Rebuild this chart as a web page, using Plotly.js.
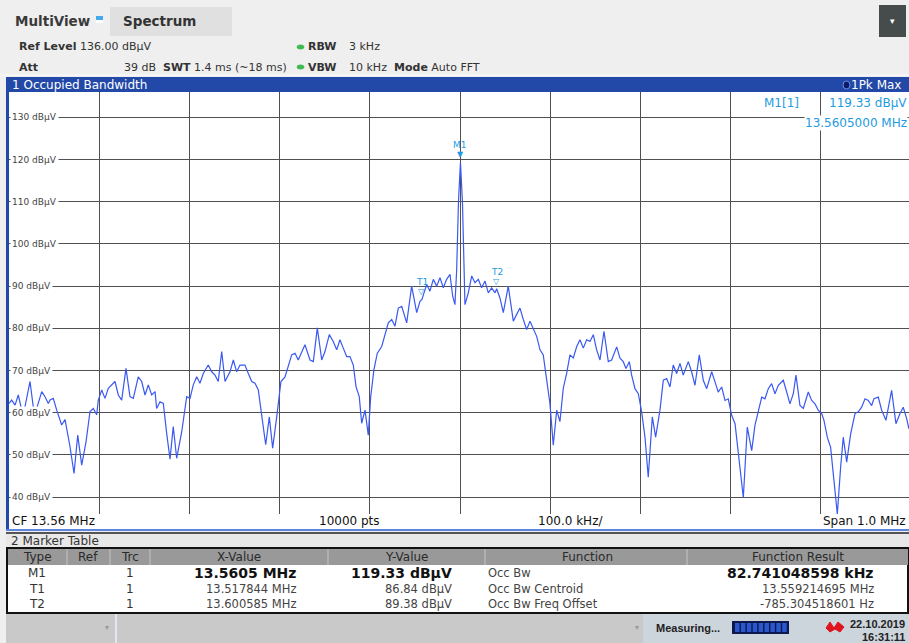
<!DOCTYPE html>
<html><head><meta charset="utf-8">
<script src="https://cdn.plot.ly/plotly-3.0.1.min.js"></script>
<style>html,body{margin:0;padding:0;background:#efefef;overflow:hidden}#chart{width:909px;height:643px}</style>
</head><body><div id="chart"></div>
<script>
// ---- data ----
const freqMHz = [
13.0600,13.0630,13.0667,13.0703,13.0741,13.0777,13.0833,13.0869,13.0907,13.0963,13.0999,13.1036,13.1055,13.1091,13.1129,13.1165,13.1184,13.1221,13.1276,13.1321,
13.1362,13.1406,13.1454,13.1498,13.1535,13.1572,13.1590,13.1628,13.1664,13.1701,13.1739,13.1775,13.1812,13.1849,13.1897,13.1941,13.1978,13.2033,13.2071,13.2108,
13.2144,13.2182,13.2219,13.2237,13.2274,13.2311,13.2348,13.2385,13.2421,13.2459,13.2515,13.2570,13.2607,13.2643,13.2681,13.2717,13.2754,13.2809,13.2847,13.2884,
13.2920,13.2958,13.2995,13.3050,13.3087,13.3124,13.3161,13.3216,13.3253,13.3291,13.3327,13.3364,13.3401,13.3446,13.3486,13.3523,13.3568,13.3615,13.3660,13.3696,
13.3734,13.3771,13.3807,13.3881,13.3937,13.3974,13.4018,13.4067,13.4103,13.4151,13.4195,13.4233,13.4269,13.4306,13.4344,13.4380,13.4417,13.4447,13.4483,13.4510,
13.4547,13.4583,13.4610,13.4646,13.4683,13.4732,13.4768,13.4805,13.4843,13.4879,13.4916,13.4954,13.5009,13.5064,13.5120,13.5156,13.5178,13.5231,13.5267,13.5304,
13.5342,13.5378,13.5415,13.5452,13.5489,13.5519,13.5544,13.5563,13.5583,13.5605,13.5627,13.5644,13.5655,13.5692,13.5730,13.5766,13.5803,13.5840,13.5877,13.5914,
13.5951,13.5988,13.6006,13.6043,13.6080,13.6135,13.6191,13.6228,13.6265,13.6302,13.6339,13.6376,13.6413,13.6450,13.6487,13.6523,13.6561,13.6597,13.6634,13.6672,
13.6708,13.6745,13.6783,13.6819,13.6856,13.6894,13.6930,13.6967,13.7004,13.7041,13.7078,13.7115,13.7152,13.7196,13.7244,13.7281,13.7337,13.7374,13.7410,13.7440,
13.7477,13.7503,13.7540,13.7577,13.7614,13.7651,13.7687,13.7732,13.7769,13.7817,13.7854,13.7891,13.7928,13.7964,13.8002,13.8039,13.8075,13.8131,13.8168,13.8205,
13.8253,13.8297,13.8335,13.8390,13.8427,13.8463,13.8501,13.8538,13.8574,13.8612,13.8649,13.8685,13.8741,13.8785,13.8834,13.8870,13.8907,13.8945,13.8981,13.9018,
13.9055,13.9092,13.9129,13.9184,13.9222,13.9258,13.9295,13.9325,13.9369,13.9406,13.9461,13.9499,13.9536,13.9572,13.9610,13.9635,13.9672,13.9709,13.9746,13.9783,
13.9820,13.9849,13.9887,13.9931,13.9979,14.0015,14.0053,14.0090,14.0126,14.0164,14.0189,14.0237,14.0275,14.0322,14.0385,14.0433,14.0478,14.0514,14.0552,14.0577
];
const levelDbuV = [
62.2,63.0,61.8,64.2,60.6,61.4,67.4,61.4,61.0,65.0,63.8,62.2,63.0,63.4,60.6,58.3,57.1,58.4,52.0,45.6,
54.7,47.6,53.1,60.3,61.0,59.5,63.0,65.4,63.4,65.8,66.6,67.4,64.2,63.0,70.5,63.8,63.4,68.5,67.4,64.2,
66.6,64.2,65.0,61.0,62.6,62.2,55.1,49.0,56.7,49.2,55.5,63.8,63.4,66.6,68.5,67.0,69.3,71.3,69.7,68.9,
67.4,74.5,67.4,69.7,72.5,69.7,71.3,71.3,69.3,67.4,67.0,65.4,59.5,52.4,59.0,51.6,59.0,67.4,68.5,71.3,
73.7,74.1,72.5,76.1,72.5,72.1,80.1,72.5,74.5,78.5,76.9,74.9,77.3,75.3,73.3,73.3,71.3,66.2,63.8,57.5,
60.6,54.7,63.8,70.2,74.1,75.7,78.5,81.3,82.1,80.5,84.8,85.2,81.3,90.0,83.7,86.4,86.84,90.4,88.8,91.6,
90.0,92.0,89.6,91.6,92.8,87.6,85.6,93.8,110.0,119.33,110.0,93.0,85.6,88.4,92.4,90.8,91.6,89.6,91.2,88.4,
89.6,88.4,89.38,87.2,83.7,90.0,81.7,83.3,84.8,82.1,79.7,81.7,80.1,78.1,74.9,73.7,67.8,62.2,52.3,60.6,
57.9,65.8,69.4,73.7,73.0,75.7,77.3,75.3,77.3,76.9,78.5,74.9,72.5,79.3,72.1,72.5,75.6,72.9,72.1,70.5,
72.1,68.9,65.7,64.5,60.2,54.2,44.7,59.0,54.2,60.6,67.7,68.1,66.1,71.3,69.3,71.7,68.9,72.1,69.7,66.5,
73.7,67.7,65.7,69.7,67.3,64.9,66.1,62.9,63.3,59.4,57.4,50.2,39.9,56.6,51.0,57.0,60.6,63.7,63.3,65.7,
66.9,64.5,66.5,67.7,64.9,62.1,64.5,68.9,61.7,61.0,64.9,62.9,62.1,60.6,59.8,58.2,54.2,51.8,43.9,36.0,
47.1,54.2,48.3,55.0,59.8,60.2,61.3,63.3,62.9,61.7,63.3,63.7,60.6,58.2,65.3,57.4,59.8,61.3,58.6,56.2
];
const yTickValues = [130,120,110,100,90,80,70,60,50,40];
const yTickLabels = yTickValues.map(v => v + ' dBµV');
const markerNames = ['M1','T1','T2'];
const markerFreqMHz = [13.5605, 13.517844, 13.600585];
const markerLevel = [119.33, 86.84, 89.38];
const markerFilled = [true, false, false];

const tableHeader = ['Type','Ref','Trc','X-Value','Y-Value','Function','Function Result'];
const tableType = ['M1','T1','T2'];
const tableTrc = ['1','1','1'];
const tableX = ['13.5605 MHz','13.517844 MHz','13.600585 MHz'];
const tableY = ['119.33 dBµV','86.84 dBµV','89.38 dBµV'];
const tableFunc = ['Occ Bw','Occ Bw Centroid','Occ Bw Freq Offset'];
const tableResult = ['82.741048598 kHz','13.559214695 MHz','-785.304518601 Hz'];

// ---- geometry helpers (pixel -> paper) ----
const L = 9, R = 909, T = 92, B = 514;
const px = x => (x - L) / (R - L);
const py = y => (B - y) / (B - T);
const FONT = 'DejaVu Sans';
const shapes = [];
const ann = [];
function rect(x0, y0, x1, y1, fill, lineColor, lw) {
  shapes.push({type:'rect', xref:'paper', yref:'paper', x0:px(x0), x1:px(x1), y0:py(y1), y1:py(y0),
    fillcolor: fill || 'rgba(0,0,0,0)', line:{color: lineColor || 'rgba(0,0,0,0)', width: lw || 0}, layer:'above'});
}
function line(x0, y0, x1, y1, color, w) {
  shapes.push({type:'line', xref:'paper', yref:'paper', x0:px(x0), x1:px(x1), y0:py(y0), y1:py(y1),
    line:{color, width: w || 1}, layer:'above'});
}
function ell(x0, y0, x1, y1, fill, lc) {
  shapes.push({type:'circle', xref:'paper', yref:'paper', x0:px(x0), x1:px(x1), y0:py(y1), y1:py(y0),
    fillcolor: fill, line:{color: lc || fill, width: 1}, layer:'above'});
}
function txt(x, y, text, o) {
  o = o || {};
  ann.push(Object.assign({xref:'paper', yref:'paper', x:px(x), y:py(y), text, showarrow:false,
    xanchor: o.anchor || 'left', yanchor:'middle', borderpad:0,
    font:{family:o.family || FONT, size:o.size || 11, color:o.color || '#333'}},
    o.bg ? {bgcolor:o.bg} : {}));
}

// ---- header ----
rect(110, 7, 232, 36, '#e0e0e0');
rect(96, 16, 103, 20, '#44aaee');
rect(96, 20, 103, 23, '#ffffff');
txt(14, 21, '<b>MultiView</b>', {size:13.5, color:'#3a3a3a'});
txt(122, 21, '<b>Spectrum</b>', {size:13.5, color:'#333'});
rect(879, 5, 906, 37, '#464b4b');
txt(892, 21, '▾', {size:9, color:'#ffffff', anchor:'center'});
txt(18, 47, '<b>Ref Level</b> 136.00 dBµV');
txt(18, 67, '<b>Att</b>');
txt(157, 67, '39 dB', {anchor:'right'});
txt(162, 67, '<b>SWT</b> 1.4 ms (~18 ms)');
ell(297, 45, 304, 49, '#3dbb4e');
ell(297, 65, 304, 69, '#3dbb4e');
txt(307, 47, '<b>RBW</b>');
txt(348, 47, '3 kHz');
txt(307, 67, '<b>VBW</b>');
txt(348, 67, '10 kHz');
txt(393, 67, '<b>Mode</b> Auto FFT');
line(0, 75, 909, 75, '#fafafa', 1);

// ---- window title bar ----
rect(6, 77, 909, 92, '#2248a8');
txt(11, 85, '1 Occupied Bandwidth', {size:12, color:'#ffffff'});
ell(843, 81, 850, 89, '#0b1a66', '#6f8fe8');
txt(902, 85, '1Pk Max', {size:12, color:'#ffffff', anchor:'right'});
rect(6, 92, 9, 531, '#2248a8');

// ---- bottom strip of diagram ----
rect(9, 514, 909, 529, '#ffffff');
rect(6, 529, 909, 531, '#5b86e0');
txt(11, 521, 'CF 13.56 MHz', {size:12, color:'#111'});
txt(318, 521, '10000 pts', {size:12, color:'#111'});
txt(537, 521, '100.0 kHz/', {size:12, color:'#111'});
txt(907, 521, 'Span 1.0 MHz', {size:12, color:'#111', anchor:'right'});

// ---- marker table ----
rect(6, 532, 909, 534, '#555555');
rect(6, 534, 909, 548, '#e8e8e8');
txt(10, 541, '2 Marker Table', {size:12, color:'#333'});
rect(7, 548, 908, 613, '#ffffff', '#111111', 2);
rect(8, 549, 908, 565, '#999999');
[67, 110, 150, 328, 485, 687].forEach(x => line(x, 549, x, 565, '#c4c4c4', 1));
const hdrX = [37, 88, 130, 239, 407, 587, 798];
tableHeader.forEach((h, i) => txt(hdrX[i], 557, h, {size:12, color:'#2a2a2a', anchor:'center'}));
const rowY = [573, 589, 604];
tableType.forEach((t, i) => {
  const bold = i === 0;
  const wrap = s => bold ? '<b>' + s + '</b>' : s;
  const c = bold ? '#111' : '#444';
  const sz = bold ? 14 : 11.5;
  txt(37, rowY[i], t, {size:12, color:'#333', anchor:'center'});
  txt(130, rowY[i], tableTrc[i], {size:12, color:'#333', anchor:'center'});
  txt(297, rowY[i], wrap(tableX[i]), {size:sz, color:c, anchor:'right'});
  txt(453, rowY[i], wrap(tableY[i]), {size:sz, color:c, anchor:'right'});
  txt(487, rowY[i], tableFunc[i], {size:11.5, color:'#444'});
  txt(875, rowY[i], wrap(tableResult[i]), {size:sz, color:c, anchor:'right'});
});

// ---- status bar ----
rect(6, 614, 909, 643, '#c9c9c9');
line(116, 614, 116, 643, '#e4e8ee', 2);
rect(643, 614, 909, 643, '#ccd4dc');
txt(107, 627, '▾', {size:8, color:'#9a9a9a', anchor:'center'});
txt(637, 627, '▾', {size:8, color:'#9a9a9a', anchor:'center'});
txt(655, 628, '<b>Measuring...</b>', {size:11, color:'#222', family:'Liberation Sans'});
rect(732, 621, 789, 634, '#0e1850');
for (let i = 0; i < 9; i++) rect(735 + i * 5.9, 623, 739.5 + i * 5.9, 632, '#2b57cc');
shapes.push({type:'path', xref:'paper', yref:'paper', layer:'above', fillcolor:'#e0141e', line:{color:'#e0141e', width:1},
  path:`M ${px(826)} ${py(628)} L ${px(830)} ${py(622)} L ${px(834)} ${py(628)} L ${px(838)} ${py(622)} L ${px(844)} ${py(627)} L ${px(840)} ${py(632)} L ${px(835)} ${py(629)} L ${px(830)} ${py(632)} Z`});
txt(906, 624, '<b>22.10.2019</b>', {size:11, color:'#222', anchor:'right', family:'Liberation Sans'});
txt(906, 637, '<b>16:31:11</b>', {size:11, color:'#222', anchor:'right', family:'Liberation Sans'});

// ---- y tick labels inside plot ----
yTickValues.forEach((v, i) => {
  ann.push({xref:'paper', yref:'y', x:0, y:v, text:yTickLabels[i], showarrow:false, xanchor:'left', yanchor:'middle',
    bgcolor:'#ffffff', borderpad:1, xshift:1, font:{family:FONT, size:9, color:'#444'}});
});

// ---- marker info (top right) ----
const MC = '#1e9be0';
txt(800, 103, 'M1[1]', {size:12, color:MC, anchor:'right', bg:'#ffffff'});
txt(908, 103, '119.33 dBµV', {size:12, color:MC, anchor:'right', bg:'#ffffff'});
txt(908, 123, '13.5605000 MHz', {size:12, color:MC, anchor:'right', bg:'#ffffff'});

// ---- marker glyphs on trace ----
markerNames.forEach((n, i) => {
  ann.push({xref:'x', yref:'y', x:markerFreqMHz[i], y:markerLevel[i], text: markerFilled[i] ? '▼' : '▽',
    showarrow:false, xanchor:'center', yanchor:'bottom', yshift:1, font:{family:FONT, size:8, color:MC}});
  ann.push({xref:'x', yref:'y', x:markerFreqMHz[i], y:markerLevel[i], text:n,
    showarrow:false, xanchor:'center', yanchor:'bottom', yshift:10, font:{family:FONT, size:9, color:MC}});
});

const trace = {x:freqMHz, y:levelDbuV, type:'scatter', mode:'lines',
  line:{color:'#3a58f2', width:1.2}, hoverinfo:'skip'};

const layout = {
  width:909, height:643,
  margin:{l:L, r:909 - R, t:T, b:643 - B, pad:0},
  paper_bgcolor:'#efefef', plot_bgcolor:'#ffffff',
  showlegend:false,
  xaxis:{range:[13.06, 13.06 + (R - L) / 902], tick0:13.06, dtick:0.1, showgrid:true, gridcolor:'#505050', gridwidth:1,
    showticklabels:false, ticks:'', zeroline:false, showline:false, fixedrange:true},
  yaxis:{range:[36, 136], tick0:0, dtick:10, showgrid:true, gridcolor:'#505050', gridwidth:1,
    showticklabels:false, ticks:'', zeroline:false, showline:false, fixedrange:true},
  shapes, annotations:ann
};
Plotly.newPlot('chart', [trace], layout, {displayModeBar:false, staticPlot:true});
</script></body></html>
